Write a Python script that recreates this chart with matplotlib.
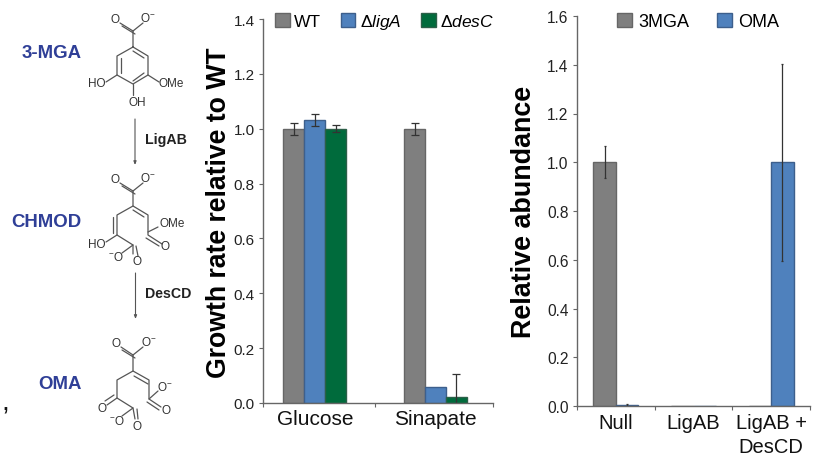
#!/usr/bin/env python

import numpy as np
import matplotlib
matplotlib.use('Agg')
import matplotlib.pyplot as plt
from matplotlib.patches import Patch

plt.rcParams['font.family'] = ['Liberation Sans', 'DejaVu Sans']
plt.rcParams['mathtext.fontset'] = 'custom'
plt.rcParams['mathtext.rm'] = 'Liberation Sans'
plt.rcParams['mathtext.it'] = 'Liberation Sans:italic'

#################################################

# - Growth rate panel
growth_cats = ['Glucose', 'Sinapate']
growth_wt = [1.0, 1.0]
growth_liga = [1.033, 0.06]
growth_desc = [1.0, 0.022]
growth_wt_err = [0.022, 0.022]
growth_liga_err = [0.022, np.nan]
growth_desc_err = [0.012, 0.082]

# - Abundance panel
abund_cats = ['Null', 'LigAB', 'LigAB +\nDesCD']
abund_3mga = [1.0, 0.001, 0.001]
abund_oma = [0.005, 0.001, 1.0]
abund_3mga_err = [0.065, np.nan, np.nan]
abund_oma_err = [0.004, np.nan, 0.405]

grey, grey_edge = '#7f7f7f', '#666666'
blue, blue_edge = '#4f81bd', '#3d5f8c'
green, green_edge = '#006b3c', '#2c5f48'
label_blue = '#2f3f97'
axis_col = '#666666'

W, H = 814, 456
fig = plt.figure(figsize=(W / 100, H / 100), dpi=100)


def axes_px(x0, x1, ytop, ybot):
    return fig.add_axes([x0 / W, 1 - ybot / H, (x1 - x0) / W, (ybot - ytop) / H])


def style_axis(ax, yticks, tick_size):
    for side in ['top', 'right']:
        ax.spines[side].set_visible(False)
    for side in ['left', 'bottom']:
        ax.spines[side].set_color(axis_col)
        ax.spines[side].set_linewidth(1.0)
    ax.set_yticks(yticks)
    ax.set_yticklabels(['{:.1f}'.format(t) for t in yticks])
    ax.tick_params(axis='y', labelsize=tick_size, length=3, color=axis_col, pad=3, labelcolor='#222222')
    ax.tick_params(axis='x', which='major', length=3, color=axis_col, labelbottom=False)
    ax.tick_params(axis='x', which='minor', length=0)


# - Left bar chart
ax1 = axes_px(263, 493, 20, 404)
group_x = np.array([0.45, 1.5])
w1 = 0.182
err_kw = dict(ecolor='#333333', elinewidth=0.9, capsize=3, capthick=0.9)
ax1.bar(group_x - w1, growth_wt, w1, yerr=growth_wt_err, color=grey, edgecolor=grey_edge, linewidth=1, error_kw=err_kw)
ax1.bar(group_x, growth_liga, w1, yerr=growth_liga_err, color=blue, edgecolor=blue_edge, linewidth=1, error_kw=err_kw)
ax1.bar(group_x + w1, growth_desc, w1, yerr=growth_desc_err, color=green, edgecolor=green_edge, linewidth=1, error_kw=err_kw)
ax1.set_xlim(0, 2)
ax1.set_ylim(0, 1.4)
style_axis(ax1, [0, 0.2, 0.4, 0.6, 0.8, 1.0, 1.2, 1.4], 11)
ax1.set_xticks([0, 0.97, 2])
ax1.set_xticks(group_x, growth_cats, minor=True, fontsize=15, color='#111111')
ax1.tick_params(axis='x', which='minor', pad=4)
handles1 = [Patch(facecolor=grey, edgecolor=grey_edge, label='WT'),
            Patch(facecolor=blue, edgecolor=blue_edge, label=r'$\Delta\mathit{ligA}$'),
            Patch(facecolor=green, edgecolor=green_edge, label=r'$\Delta\mathit{desC}$')]
ax1.legend(handles=handles1, ncol=3, frameon=False, fontsize=12.5, loc='upper left',
           bbox_to_anchor=(0.053, 1.018), borderpad=0, borderaxespad=0, handlelength=0.85,
           handleheight=0.85, handletextpad=0.25, columnspacing=1.12)
fig.text(219 / W, 1 - 213 / H, 'Growth rate relative to WT', rotation=90, fontsize=19.2,
         fontweight='bold', ha='center', va='center', color='black')

# - Right bar chart
ax2 = axes_px(577, 810, 17, 407)
x2 = np.arange(len(abund_cats)) + 0.5
w2 = 0.29
err_kw2 = dict(ecolor='#333333', elinewidth=0.9, capsize=1, capthick=0.9)
ax2.bar(x2 - w2 / 2, abund_3mga, w2, yerr=abund_3mga_err, color=grey, edgecolor=grey_edge, linewidth=1, error_kw=err_kw2)
ax2.bar(x2 + w2 / 2, abund_oma, w2, yerr=abund_oma_err, color=blue, edgecolor=blue_edge, linewidth=1, error_kw=err_kw2)
ax2.set_xlim(0, 3)
ax2.set_ylim(0, 1.6)
style_axis(ax2, [0, 0.2, 0.4, 0.6, 0.8, 1.0, 1.2, 1.4, 1.6], 11.2)
ax2.set_xticks([0, 1, 2, 3])
ax2.set_xticks(x2, abund_cats, minor=True, fontsize=14.5, color='#111111')
ax2.tick_params(axis='x', which='minor', pad=5)
for lab in ax2.get_xticklabels(minor=True):
    lab.set_linespacing(1.35)
handles2 = [Patch(facecolor=grey, edgecolor=grey_edge, label='3MGA'),
            Patch(facecolor=blue, edgecolor=blue_edge, label='OMA')]
ax2.legend(handles=handles2, ncol=2, frameon=False, fontsize=13, loc='upper left',
           bbox_to_anchor=(0.172, 1.008), borderpad=0, borderaxespad=0, handlelength=0.85,
           handleheight=0.85, handletextpad=0.35, columnspacing=1.5)
fig.text(524 / W, 1 - 212 / H, 'Relative abundance', rotation=90, fontsize=19.4,
         fontweight='bold', ha='center', va='center', color='black')

# - Pathway drawing, overlay in image pixels
sk = fig.add_axes([0, 0, 1, 1], zorder=-1)
sk.set_xlim(0, W)
sk.set_ylim(H, 0)
sk.axis('off')
bond_col = '#555555'

bonds = [
    # 3-MGA
    [(133, 32), (133, 48), (148, 57), (148, 76), (133, 85), (117, 76), (117, 57), (133, 48)],
    [(133, 32), (120, 24)], [(133, 32), (143, 24)],
    [(133, 85), (133, 96)], [(117, 76), (106, 83)], [(148, 76), (159, 83)],
    # CHMOD
    [(133, 192), (133, 207), (148, 216), (148, 236), (162, 245)],
    [(133, 207), (117, 216), (117, 236), (133, 246), (133, 255)],
    [(133, 192), (120, 184)], [(133, 192), (143, 184)],
    [(117, 236), (106, 243)], [(133, 246), (122, 254)], [(148, 233), (158, 228)],
    # OMA
    [(133, 356), (133, 372), (149, 381), (149, 400), (161, 408)],
    [(133, 372), (117, 381), (117, 399), (133, 409), (135, 420)],
    [(133, 356), (121, 348)], [(133, 356), (143, 348)],
    [(149, 400), (158, 392)], [(117, 399), (107, 406)], [(133, 409), (122, 417)],
]
double_bonds = [
    [(135, 35), (122, 27)], [(144, 59), (133, 52)], [(144, 74), (133, 82)], [(121, 74), (121, 59)],
    [(135, 195), (122, 187)], [(144, 218), (133, 211)], [(113, 218), (113, 234)],
    [(146, 239), (159, 247)], [(136, 247), (138, 257)],
    [(135, 359), (122, 351)], [(148, 385), (134, 377)],
    [(147, 403), (159, 411)], [(114, 396), (105, 402)], [(137, 410), (138, 420)],
]
for b in bonds + double_bonds:
    xs, ys = zip(*b)
    sk.plot(xs, ys, color=bond_col, lw=0.9, solid_capstyle='round')

atoms = [('O', 115, 20), ('O$^{-}$', 148, 19), ('HO', 97, 84), ('OMe', 171, 84), ('OH', 137, 103),
         ('O', 115, 180), ('O$^{-}$', 148, 179), ('OMe', 172, 224), ('HO', 97, 245),
         ('$^{-}$O', 116, 258), ('O', 137, 262), ('O', 165, 247),
         ('O', 116, 344), ('O$^{-}$', 149, 343), ('O$^{-}$', 165, 388), ('O', 166, 411),
         ('O', 102, 409), ('$^{-}$O', 117, 422), ('O', 137, 427)]
for txt, x, y in atoms:
    sk.text(x, y, txt, fontsize=8.5, ha='center', va='center', color='#333333')

for txt, y in [('3-MGA', 53), ('CHMOD', 223), ('OMA', 385)]:
    sk.text(82, y, txt, fontsize=13.4, fontweight='bold', color=label_blue, ha='right', va='center')

for x, y0, y1, txt, tx, ty in [(135, 120, 166, 'LigAB', 144.5, 140), (135.5, 274, 320, 'DesCD', 144.5, 294)]:
    sk.annotate('', xy=(x, y1), xytext=(x, y0),
                arrowprops=dict(arrowstyle='-|>,head_width=0.08,head_length=0.2', color=bond_col, lw=0.8, shrinkA=0, shrinkB=0))
    sk.text(tx, ty, txt, fontsize=10.2, fontweight='bold', color='#222222', ha='left', va='center')

sk.text(5, 404, ',', fontsize=20, color='#111111', ha='center', va='center')

# - Save figure
fig.savefig('out.png', dpi=100, facecolor='white')
